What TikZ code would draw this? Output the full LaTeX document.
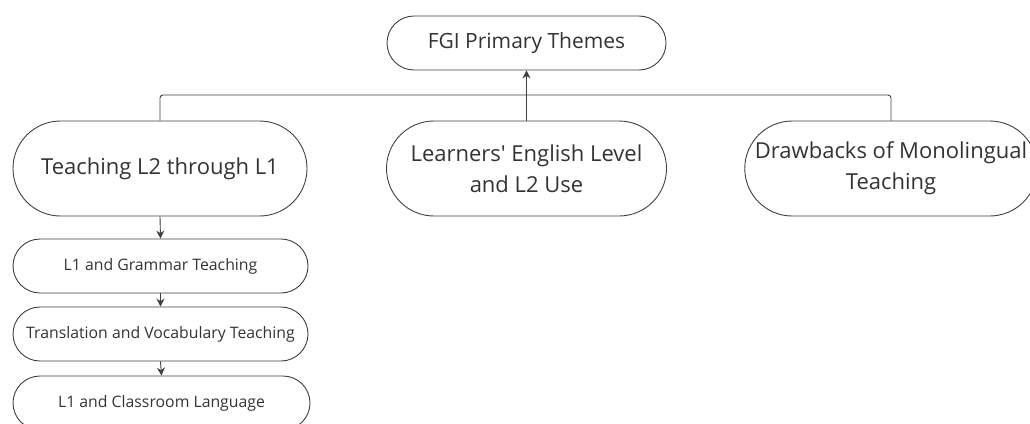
\documentclass[tikz,border=0pt]{standalone}
\usepackage{fontspec}
\setmainfont{Open Sans}[Ligatures=TeXOff]
\usetikzlibrary{shapes.misc,arrows.meta}
\definecolor{linegray}{HTML}{404040}
\definecolor{textgray}{HTML}{333333}

\begin{document}
\begin{tikzpicture}
  [x=1pt, y=-1pt,
   every node/.style={rounded rectangle, draw=linegray, line width=0.9pt,
     text=textgray, align=center, inner sep=2pt},
   theme/.style={minimum width=298pt, minimum height=95pt, font=\fontsize{22}{31}\selectfont},
   topbox/.style={minimum width=283pt, minimum height=54pt, font=\fontsize{21}{25}\selectfont},
   subbox/.style={minimum width=299pt, minimum height=54pt, font=\fontsize{15.8}{19}\selectfont},
   link/.style={draw=linegray, line width=0.9pt},
   arr/.style={link, -{Stealth[length=8pt, width=8pt]}}]
  \useasboundingbox (0,0) rectangle (1030,423);
  \node [topbox] (fgi) at (526.5,43) {FGI Primary Themes};
  \node [theme] (teach) at (160,168.5) {Teaching L2 through L1};
  \node [theme, minimum width=284pt] (learn) at (526.5,168.5) {Learners' English Level\\and L2 Use};
  \node [theme, minimum width=292pt] (drawb) at (891,168.5) {Drawbacks of Monolingual\\Teaching};
  \node [subbox] (gram) at (160.5,266) {L1 and Grammar Teaching};
  \node [subbox] (trans) at (160.5,334) {Translation and Vocabulary Teaching};
  \node [subbox, minimum width=301pt] (class) at (161.5,403) {L1 and Classroom Language};
  % bus line to the three themes
  \coordinate (bus) at (526.5,95);
  \draw [link, rounded corners=3pt] (teach.north) |- (bus) -| (drawb.north);
  \draw [arr] (learn.north) -- (fgi.south);
  % sub themes
  \draw [arr] (teach.south) -- (gram.north);
  \draw [arr] (gram.south) -- (trans.north);
  \draw [arr] (trans.south) -- (class.north);
\end{tikzpicture}
\end{document}
